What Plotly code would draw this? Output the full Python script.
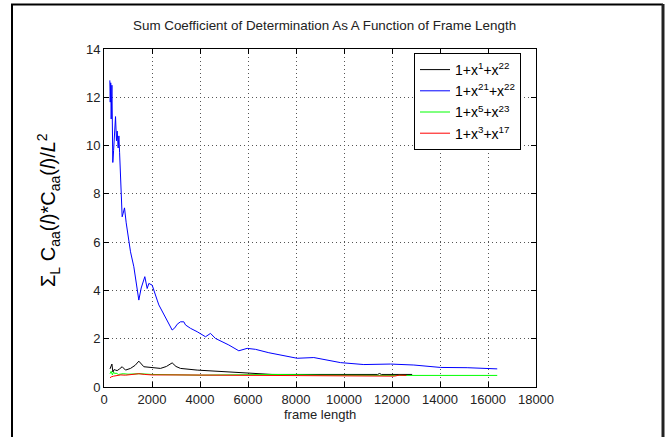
import plotly.graph_objects as go

# ---- data ----
blue_x = [243, 260, 280, 300, 330, 350, 367, 400, 450, 480, 520, 550, 590, 620, 650, 715, 757, 800, 854, 925,
          1035, 1104, 1243, 1350, 1451, 1550, 1701, 1799, 1868, 2007, 2146, 2215, 2285, 2450, 2632, 2840, 2950,
          3050, 3187, 3326, 3396, 3604, 3882, 4229, 4437, 4646, 5200, 5617, 5965, 6312, 6868, 7354, 8048, 8743,
          9854, 10826, 11937, 12910, 14021, 15132, 16104, 16384]
blue_y = [12.7, 11.8, 12.6, 11.1, 12.5, 11.0, 9.3, 9.8, 10.6, 11.2, 10.2, 10.6, 9.9, 10.4, 9.7, 8.0, 7.05, 7.2,
          7.42, 6.8, 6.1, 5.6, 4.98, 4.2, 3.6, 4.1, 4.57, 4.08, 4.29, 4.22, 3.74, 3.6, 3.40, 3.1, 2.77, 2.36, 2.45,
          2.6, 2.70, 2.70, 2.57, 2.43, 2.29, 2.08, 2.22, 2.01, 1.74, 1.50, 1.60, 1.56, 1.42, 1.32, 1.19, 1.22,
          1.01, 0.93, 0.95, 0.91, 0.81, 0.80, 0.75, 0.75]

black_x = [250, 300, 330, 370, 420, 480, 550, 650, 757, 896, 1000, 1104, 1300, 1451, 1660, 1938, 2354, 2600,
           2840, 3000, 3187, 3882, 4500, 5271, 6382, 7000, 8000, 10000, 11400, 11480, 11560, 12840]
black_y = [0.75, 0.84, 0.95, 0.62, 0.72, 0.70, 0.68, 0.75, 0.84, 0.70, 0.74, 0.77, 0.90, 1.07, 0.84, 0.80, 0.77,
           0.85, 1.00, 0.85, 0.77, 0.70, 0.67, 0.63, 0.55, 0.52, 0.52, 0.52, 0.52, 0.56, 0.52, 0.52]

green_x = [250, 300, 350, 400, 450, 500, 600, 800, 1000, 1500, 2000, 3000, 4000, 5000, 6000, 7000, 8000, 9000,
           12000, 16384]
green_y = [0.55, 0.65, 0.50, 0.62, 0.55, 0.58, 0.52, 0.55, 0.53, 0.55, 0.52, 0.50, 0.49, 0.50, 0.52, 0.52, 0.51,
           0.49, 0.48, 0.48]

red_x = [250, 300, 400, 500, 700, 900, 1200, 1450, 1700, 2000, 3000, 5000, 8000, 11900, 12100, 12300, 12600]
red_y = [0.38, 0.42, 0.45, 0.47, 0.50, 0.49, 0.52, 0.55, 0.52, 0.50, 0.50, 0.49, 0.49, 0.48, 0.45, 0.49, 0.48]

series_names = ["1+x<sup>1</sup>+x<sup>22</sup>", "1+x<sup>21</sup>+x<sup>22</sup>",
                "1+x<sup>5</sup>+x<sup>23</sup>", "1+x<sup>3</sup>+x<sup>17</sup>"]
series_colors = ["#000000", "#0000ff", "#00ff00", "#ff0000"]
series_x = [black_x, blue_x, green_x, red_x]
series_y = [black_y, blue_y, green_y, red_y]

x_ticks = [0, 2000, 4000, 6000, 8000, 10000, 12000, 14000, 16000, 18000]
y_ticks = [0, 2, 4, 6, 8, 10, 12, 14]

title_text = "Sum Coefficient of Determination As A Function of Frame Length"
xlabel_text = "frame length"
ylabel_text = "Σ<sub>L</sub> C<sub>aa</sub>(<i>l</i>)*C<sub>aa</sub>(<i>l</i>)/<i>L</i><sup>2</sup>"

FONT = "Liberation Sans, Arial, sans-serif"

fig = go.Figure()
for i in range(4):
    fig.add_trace(go.Scatter(x=series_x[i], y=series_y[i], mode="lines", name=series_names[i],
                             line=dict(color=series_colors[i], width=1), legendrank=i + 1))

W, H = 667, 437
L, R, T, B = 104, 131, 49, 50
pw, ph = W - L - R, H - T - B


def px2x(px):
    return (px - L) / pw


def py2y(py):
    return (H - B - py) / ph


axis_common = dict(showline=True, linecolor="black", linewidth=1, mirror="ticks",
                   ticks="inside", ticklen=5, tickcolor="black",
                   showgrid=True, gridcolor="#555555", gridwidth=1, griddash="1px,3px",
                   zeroline=False, tickfont=dict(family=FONT, size=13, color="#222222"))

fig.update_layout(
    width=W, height=H,
    margin=dict(l=L, r=R, t=T, b=B, pad=0),
    paper_bgcolor="white", plot_bgcolor="white",
    font=dict(family=FONT, color="black"),
    showlegend=True,
    legend=dict(x=px2x(414), y=py2y(53), xanchor="left", yanchor="top", traceorder="normal",
                bgcolor="white", bordercolor="black", borderwidth=1,
                font=dict(family=FONT, size=14, color="black"),
                tracegroupgap=0),
    xaxis=dict(range=[0, 18000], tickvals=x_ticks, ticktext=[str(v) for v in x_ticks], **axis_common),
    yaxis=dict(range=[0, 14], tickvals=y_ticks, ticktext=[str(v) for v in y_ticks], **axis_common),
)

annotations = [
    dict(text=title_text, x=px2x(324), y=py2y(25), xref="paper", yref="paper", showarrow=False,
         xanchor="center", yanchor="middle", font=dict(family=FONT, size=13.4, color="#222222")),
    dict(text=xlabel_text, x=0.5, y=py2y(414), xref="paper", yref="paper", showarrow=False,
         xanchor="center", yanchor="middle", font=dict(family=FONT, size=13, color="#222222")),
    dict(text=ylabel_text, x=px2x(48), y=py2y(210), xref="paper", yref="paper", showarrow=False,
         xanchor="center", yanchor="middle", textangle=-90, font=dict(family=FONT, size=20, color="black")),
]
fig.update_layout(annotations=annotations)

# window frame lines around the screenshot
frame = dict(type="line", xref="paper", yref="paper", line=dict(color="black", width=2))
fig.update_layout(shapes=[
    dict(frame, x0=px2x(11), x1=px2x(663), y0=py2y(4.5), y1=py2y(4.5)),
    dict(frame, x0=px2x(12), x1=px2x(12), y0=py2y(4), y1=py2y(437)),
    dict(frame, x0=px2x(663), x1=px2x(663), y0=py2y(4), y1=py2y(437), line=dict(color="#222222", width=3)),
])

fig.write_html("out.html")
